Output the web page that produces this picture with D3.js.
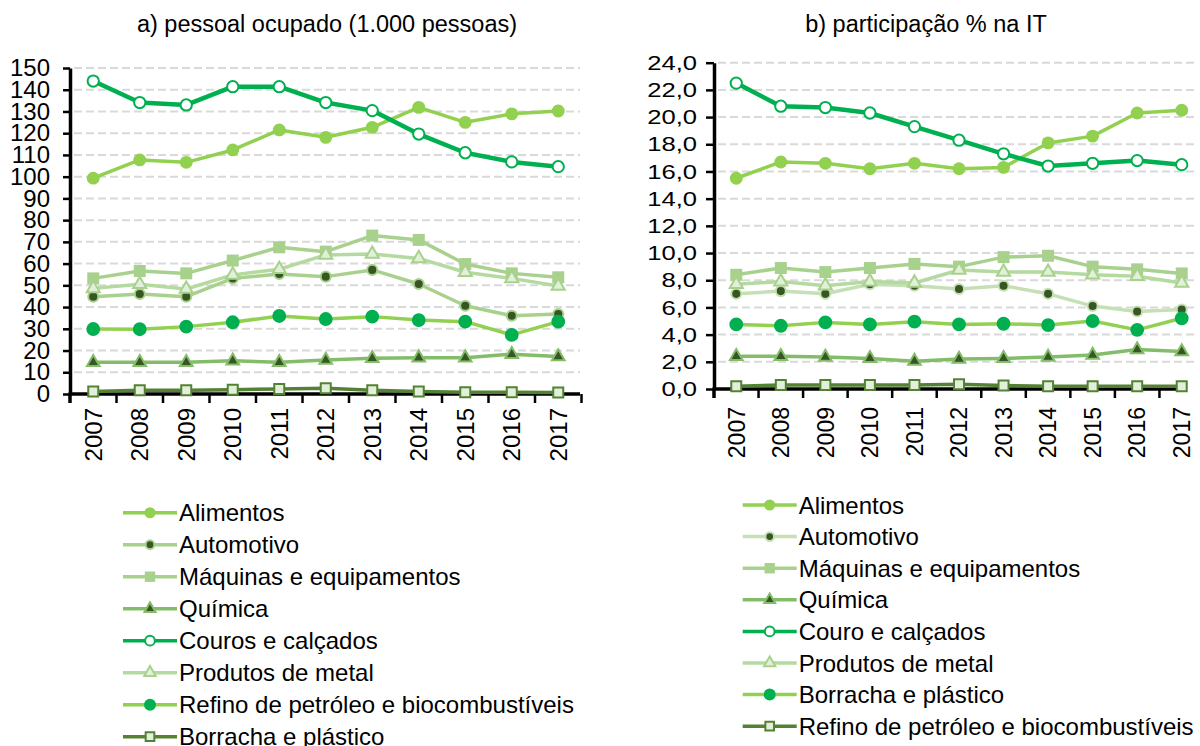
<!DOCTYPE html>
<html>
<head>
<meta charset="utf-8">
<script src="https://cdn.jsdelivr.net/npm/d3@7"></script>
<style>
    body { margin: 0; background: #fff; }
    svg { display: block; font-family: "Liberation Sans", Arial, sans-serif; }
    .grid-line { stroke: #d9d9d9; stroke-width: 2; stroke-dasharray: 8,4; }
    .axis line, .axis path { stroke: #000; }
</style>
</head>
<body>
<svg id="chart" width="1200" height="746"></svg>
<script>
const years = [2007, 2008, 2009, 2010, 2011, 2012, 2013, 2014, 2015, 2016, 2017];

// a) pessoal ocupado (1.000 pessoas)
const ocupAlimentos  = [99.3, 107.7, 106.6, 112.3, 121.5, 118.1, 122.7, 131.9, 125.0, 128.9, 130.2];
const ocupAutomotivo = [44.8, 46.0, 44.8, 53.2, 55.2, 54.0, 57.1, 50.6, 40.6, 36.0, 36.8];
const ocupMaquinas   = [53.2, 56.6, 55.5, 61.4, 67.5, 65.5, 72.9, 70.9, 59.8, 55.5, 53.7];
const ocupQuimica    = [14.6, 14.6, 14.6, 15.3, 14.6, 15.6, 16.4, 16.7, 16.7, 18.3, 17.2];
const ocupCouros     = [144.0, 134.1, 133.0, 141.4, 141.4, 134.1, 130.4, 119.6, 111.0, 106.8, 104.6];
const ocupMetal      = [48.6, 50.5, 48.3, 54.8, 57.4, 64.0, 64.4, 62.4, 56.0, 53.2, 49.7];
const ocupRefino     = [29.9, 29.8, 31.0, 33.0, 35.9, 34.5, 35.6, 34.0, 33.3, 27.2, 33.3];
const ocupBorracha   = [1.1, 1.7, 1.7, 2.0, 2.3, 2.6, 1.7, 1.1, 0.8, 0.8, 0.7];

// b) participação % na IT
const partAlimentos  = [15.5, 16.7, 16.6, 16.2, 16.6, 16.2, 16.3, 18.1, 18.6, 20.3, 20.5];
const partAutomotivo = [7.0, 7.2, 7.0, 7.7, 7.6, 7.35, 7.6, 7.0, 6.1, 5.7, 5.85];
const partMaquinas   = [8.4, 8.9, 8.6, 8.9, 9.2, 9.0, 9.7, 9.8, 9.0, 8.8, 8.5];
const partQuimica    = [2.4, 2.4, 2.35, 2.25, 2.05, 2.2, 2.25, 2.35, 2.5, 2.9, 2.75];
const partCouro      = [22.5, 20.8, 20.7, 20.3, 19.3, 18.3, 17.3, 16.4, 16.6, 16.8, 16.5];
const partMetal      = [7.7, 7.9, 7.6, 7.9, 7.8, 8.75, 8.6, 8.6, 8.4, 8.3, 7.8];
const partBorracha   = [4.75, 4.65, 4.9, 4.75, 4.95, 4.75, 4.8, 4.7, 5.0, 4.35, 5.2];
const partRefino     = [0.2, 0.3, 0.3, 0.3, 0.3, 0.35, 0.25, 0.2, 0.2, 0.2, 0.2];

const leftTitle = "a) pessoal ocupado (1.000 pessoas)";
const rightTitle = "b) participação % na IT";

const leftNames = ["Alimentos", "Automotivo", "Máquinas e equipamentos", "Química",
    "Couros e calçados", "Produtos de metal", "Refino de petróleo e biocombustíveis", "Borracha e plástico"];
const rightNames = ["Alimentos", "Automotivo", "Máquinas e equipamentos", "Química",
    "Couro e calçados", "Produtos de metal", "Borracha e plástico", "Refino de petróleo e biocombustíveis"];

// styles per series (same order as the names)
const leftStyles = [
    { line: "#92d050", w: 3.5, shape: "circle", size: 130, fill: "#92d050", stroke: "none" },
    { line: "#a9d18e", w: 3.5, shape: "circle", size: 80, fill: "#375623", stroke: "#a9d18e" },
    { line: "#a9d18e", w: 3.5, shape: "square", size: 144, fill: "#a9d18e", stroke: "none" },
    { line: "#84bd6a", w: 3.5, shape: "triangle", size: 70, fill: "#375623", stroke: "#84bd6a" },
    { line: "#00b050", w: 4.5, shape: "circle", size: 100, fill: "#ffffff", stroke: "#00b050" },
    { line: "#b4daa0", w: 3.5, shape: "triangle", size: 75, fill: "#e2f0d9", stroke: "#a9d18e" },
    { line: "#92d050", w: 3.5, shape: "circle", size: 150, fill: "#00b050", stroke: "none" },
    { line: "#548235", w: 3.5, shape: "square", size: 100, fill: "#e2efda", stroke: "#548235" }
];
const rightStyles = leftStyles.map((s, i) => i === 1 ? Object.assign({}, s, { line: "#c5e0b4", stroke: "#c5e0b4" }) : s);

const svg = d3.select("#chart");

function drawPanel(cfg) {
    const g = svg.append("g");

    const y = d3.scaleLinear().domain([0, cfg.yMax]).range([cfg.y0, cfg.yTop]);
    const x = d3.scaleBand().domain(years).range([cfg.left, cfg.right]);
    const cx = d => x(d) + x.bandwidth() / 2;
    const ticks = d3.range(0, cfg.yMax + cfg.step / 2, cfg.step);

    // title
    g.append("text")
        .attr("x", cfg.titleX)
        .attr("y", 32)
        .attr("text-anchor", "middle")
        .attr("font-size", 23.5)
        .attr("fill", "#000")
        .text(cfg.title);

    // dashed grid
    g.selectAll(".grid-line")
        .data(ticks.filter(t => t > 0))
        .enter()
        .append("line")
        .attr("class", "grid-line")
        .attr("x1", cfg.left + 4)
        .attr("x2", cfg.gridEnd)
        .attr("y1", d => y(d))
        .attr("y2", d => y(d));

    // y axis
    const yAxis = d3.axisLeft(y)
        .tickValues(ticks)
        .tickSize(cfg.yTick)
        .tickSizeOuter(0)
        .tickPadding(cfg.yPad)
        .tickFormat(cfg.fmt);
    const ya = g.append("g")
        .attr("class", "axis")
        .attr("transform", `translate(${cfg.left},0)`)
        .call(yAxis);
    ya.select(".domain").attr("stroke-width", 3.5);
    ya.selectAll(".tick line").attr("stroke-width", 2.5);
    ya.selectAll(".tick text")
        .attr("font-size", cfg.yFont)
        .attr("fill", "#000");
    if (cfg.yStretch) {
        ya.selectAll(".tick text")
            .attr("x", -(cfg.yTick + cfg.yPad) / cfg.yStretch)
            .attr("transform", `scale(${cfg.yStretch},1)`);
    }

    // x axis
    const xAxis = d3.axisBottom(x).tickSize(0).tickSizeOuter(0);
    const xa = g.append("g")
        .attr("class", "axis")
        .attr("transform", `translate(0,${cfg.y0})`)
        .call(xAxis);
    xa.select(".domain").remove();
    xa.append("line")
        .attr("x1", cfg.left - 1.5)
        .attr("x2", cfg.axisEnd)
        .attr("stroke", "#000")
        .attr("stroke-width", 3.5);
    xa.selectAll(".boundary")
        .data(years.map(d => x(d)).concat([x.range()[1]]))
        .enter()
        .append("line")
        .attr("class", "boundary")
        .attr("x1", d => d).attr("x2", d => d)
        .attr("y1", 0).attr("y2", 9)
        .attr("stroke", "#000")
        .attr("stroke-width", d => d === cfg.left ? 3.5 : 2.5);
    xa.selectAll(".tick text")
        .attr("transform", "rotate(-90)")
        .attr("x", -cfg.xPad)
        .attr("y", 0)
        .attr("dy", "0.36em")
        .attr("text-anchor", "end")
        .attr("font-size", cfg.xFont)
        .attr("fill", "#000");

    // series
    const line = d3.line()
        .x((d, i) => cx(years[i]))
        .y(d => y(d));

    cfg.series.forEach((vals, k) => {
        const st = cfg.styles[k];
        g.append("path")
            .datum(vals)
            .attr("fill", "none")
            .attr("stroke", st.line)
            .attr("stroke-width", st.w)
            .attr("stroke-linejoin", "round")
            .attr("d", line);
    });
    cfg.series.forEach((vals, k) => {
        const st = cfg.styles[k];
        g.selectAll(null)
            .data(vals)
            .enter()
            .append("path")
            .attr("transform", (d, i) => `translate(${cx(years[i])},${y(d)})`)
            .call(marker, st);
    });

    // legend
    const lg = g.append("g");
    cfg.names.forEach((name, k) => {
        const st = cfg.styles[k];
        const ly = cfg.legTop + k * cfg.legStep;
        lg.append("line")
            .attr("x1", cfg.legX).attr("x2", cfg.legX + 54)
            .attr("y1", ly).attr("y2", ly)
            .attr("stroke", st.line)
            .attr("stroke-width", 3.5);
        lg.append("path")
            .attr("transform", `translate(${cfg.legX + 27},${ly})`)
            .call(marker, Object.assign({}, st, { size: st.size * 0.75 }));
        lg.append("text")
            .attr("x", cfg.legX + 56)
            .attr("y", ly)
            .attr("dy", "0.36em")
            .attr("font-size", 24)
            .attr("fill", "#000")
            .text(name);
    });
}

function marker(sel, st) {
    const type = st.shape === "square" ? d3.symbolSquare
        : st.shape === "triangle" ? d3.symbolTriangle : d3.symbolCircle;
    sel.attr("d", d3.symbol().type(type).size(st.size)())
        .attr("fill", st.fill)
        .attr("stroke", st.stroke)
        .attr("stroke-width", st.stroke === "none" ? 0 : 2);
}

drawPanel({
    title: leftTitle, titleX: 327,
    left: 70, right: 581.5, axisEnd: 580, gridEnd: 580,
    y0: 394, yTop: 68, yMax: 150, step: 10,
    fmt: d3.format("d"), yTick: 7, yPad: 13, yFont: 24,
    xPad: 14, xFont: 24,
    series: [ocupAlimentos, ocupAutomotivo, ocupMaquinas, ocupQuimica, ocupCouros, ocupMetal, ocupRefino, ocupBorracha],
    styles: leftStyles, names: leftNames,
    legX: 123, legTop: 512.7, legStep: 32
});

drawPanel({
    title: rightTitle, titleX: 926,
    left: 714, right: 1204, axisEnd: 1187, gridEnd: 1197,
    y0: 389, yTop: 62.7, yMax: 24, step: 2,
    fmt: d => d3.format(".1f")(d).replace(".", ","), yTick: 8, yPad: 9, yFont: 21, yStretch: 1.22,
    xPad: 18, xFont: 23,
    series: [partAlimentos, partAutomotivo, partMaquinas, partQuimica, partCouro, partMetal, partBorracha, partRefino],
    styles: rightStyles, names: rightNames,
    legX: 742.7, legTop: 505, legStep: 31.6
});
</script>
</body>
</html>
